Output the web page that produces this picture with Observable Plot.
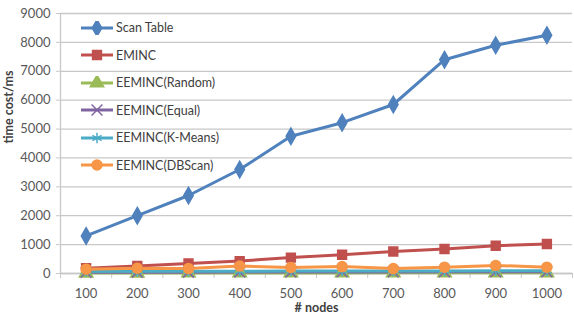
<!DOCTYPE html>
<html>
<head>
<meta charset="utf-8">
<script src="https://cdn.jsdelivr.net/npm/d3@7"></script>
<script src="https://cdn.jsdelivr.net/npm/@observablehq/plot@0.6"></script>
<style>
  html, body { margin: 0; padding: 0; background: white; }
  #wrap { position: relative; width: 574px; height: 317px; font-family: Lato, "Open Sans", sans-serif; }
  #legend { position: absolute; left: 81px; top: 14px; }
  .row { display: flex; align-items: center; height: 27.5px; font-size: 12.5px; color: #404040; }
  .row svg { margin-right: 3px; }
</style>
</head>
<body>
<div id="wrap"><div id="legend"></div></div>
<script>
const nodes = [100, 200, 300, 400, 500, 600, 700, 800, 900, 1000];
const seriesNames = ["Scan Table", "EMINC", "EEMINC(Random)", "EEMINC(Equal)", "EEMINC(K-Means)", "EEMINC(DBScan)"];
const scanTable = [1300, 2000, 2700, 3600, 4750, 5220, 5850, 7400, 7900, 8250];
const eminc     = [180, 260, 350, 430, 550, 650, 760, 850, 960, 1020];
const eeRandom  = [15, 15, 18, 20, 20, 20, 22, 22, 25, 25];
const eeEqual   = [40, 45, 45, 50, 50, 55, 55, 60, 60, 60];
const eeKMeans  = [70, 75, 80, 80, 85, 85, 90, 90, 95, 95];
const eeDBScan  = [150, 180, 170, 260, 210, 240, 170, 220, 280, 220];
const yTicks = [0, 1000, 2000, 3000, 4000, 5000, 6000, 7000, 8000, 9000];

const colors = ["#4F81BD", "#C0504D", "#9BBB59", "#8064A2", "#4BACC6", "#F79646"];
const symbols = ["diamond", "square", "triangle", "times", "asterisk", "circle"];
const d3symbols = [d3.symbolDiamond, d3.symbolSquare, d3.symbolTriangle, d3.symbolTimes, d3.symbolAsterisk, d3.symbolCircle];

const allValues = [scanTable, eminc, eeRandom, eeEqual, eeKMeans, eeDBScan];
const data = [];
seriesNames.forEach((s, i) => nodes.forEach((n, j) => data.push({series: s, nodes: n, value: allValues[i][j]})));

const step = nodes[1] - nodes[0];
const bounds = [nodes[0] - step / 2, ...nodes.map(n => n + step / 2)];
const grid = "#c8c8c8";

const chart = Plot.plot({
  width: 574, height: 317,
  marginLeft: 60, marginRight: 2, marginTop: 13, marginBottom: 44,
  style: {fontFamily: "Lato, 'Open Sans', sans-serif", fontSize: "13px", color: "#595959", background: "white", overflow: "visible"},
  x: {domain: [bounds[0], bounds[bounds.length - 1]]},
  y: {domain: [0, 9000]},
  color: {domain: seriesNames, range: colors},
  symbol: {domain: seriesNames, range: symbols},
  marks: [
    Plot.gridY(yTicks, {stroke: grid, strokeOpacity: 1, strokeWidth: 1.3}),
    Plot.axisY({ticks: yTicks, tickSize: 4, tickPadding: 6, label: null, stroke: grid, tickFormat: d => String(d)}),
    Plot.axisX({ticks: nodes, tickSize: 0, tickPadding: 15, label: null, tickFormat: d => String(d)}),
    Plot.axisX({ticks: bounds, tickSize: 5, tickPadding: 0, label: null, stroke: grid, tickFormat: () => ""}),
    Plot.ruleX([bounds[0]], {stroke: grid, strokeWidth: 1.3}),
    Plot.ruleY([0], {stroke: grid, strokeWidth: 1.3}),
    Plot.line(data, {x: "nodes", y: "value", z: "series", stroke: "series", strokeWidth: 3}),
    Plot.dot(data, {x: "nodes", y: "value", symbol: "series", fill: "series", stroke: "series", strokeWidth: 1.5, r: 5}),
    Plot.text(["# nodes"], {frameAnchor: "bottom", dy: 38, fontWeight: "bold", fontSize: 12.5, fill: "#404040"}),
    Plot.text(["time cost/ms"], {frameAnchor: "left", rotate: -90, dx: -52, fontWeight: "bold", fontSize: 12.5, fill: "#404040"})
  ]
});
document.getElementById("wrap").prepend(chart);

const legend = document.getElementById("legend");
seriesNames.forEach((s, i) => {
  const row = document.createElement("div");
  row.className = "row";
  const path = d3.symbol(d3symbols[i], 78)();
  const isStroke = i === 3 || i === 4;
  row.innerHTML = `<svg width="32" height="14"><line x1="0" x2="32" y1="7" y2="7" stroke="${colors[i]}" stroke-width="3"/>` +
    `<path transform="translate(16,7)" d="${path}" fill="${isStroke ? "none" : colors[i]}" stroke="${colors[i]}" stroke-width="1.5"/></svg><span>${s}</span>`;
  legend.appendChild(row);
});
</script>
</body>
</html>
